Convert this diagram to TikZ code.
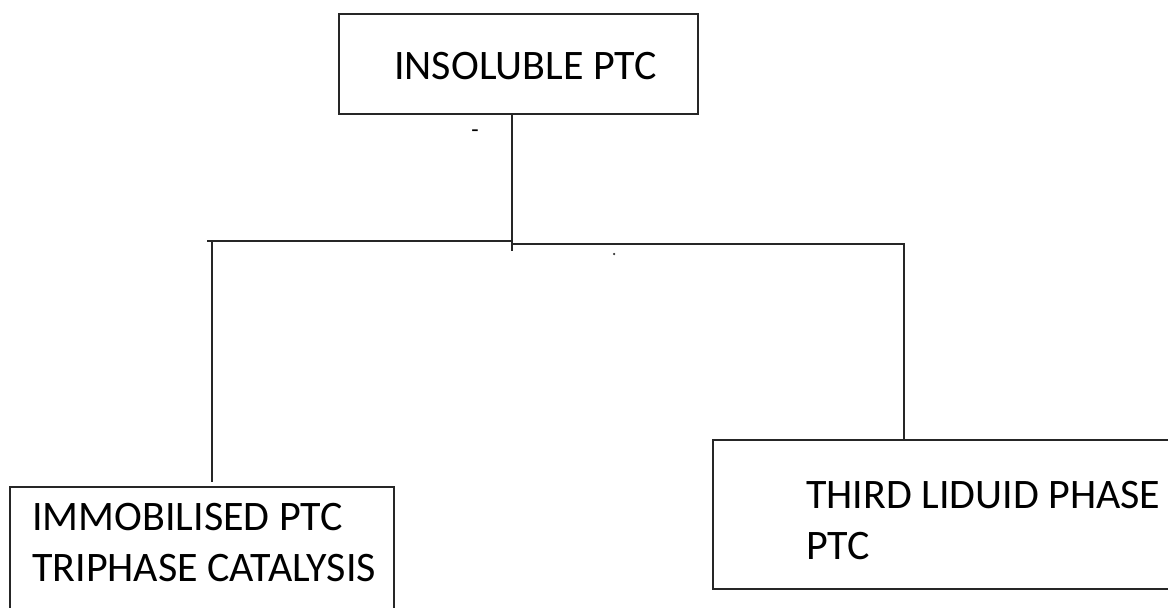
\documentclass[tikz,border=0pt]{standalone}
\usepackage{fontspec}
\setmainfont{Carlito}
\begin{document}
\begin{tikzpicture}[x=1pt,y=-1pt,
  box/.style={draw=black!85,line width=2pt,rectangle,inner sep=0pt},
  conn/.style={draw=black!85,line width=2pt},
  lbl/.style={anchor=base west,inner sep=0pt,font=\fontsize{42}{51}\selectfont,text=black}]
\useasboundingbox (0,0) rectangle (1168,608);
\clip (0,0) rectangle (1168,608);
% boxes
\node[box,minimum width=359pt,minimum height=100pt] (top) at (518.5,64) {};
\node[box,minimum width=384pt,minimum height=140pt] (lbox) at (202,557) {};
\node[box,minimum width=480pt,minimum height=149pt] (rbox) at (953,514.5) {};
% texts
\node[lbl] (ttop) at (394,79) {INSOLUBLE PTC};
\node[lbl] (tl1) at (32,530) {IMMOBILISED PTC};
\node[lbl] (tl2) at (32,581) {TRIPHASE CATALYSIS};
\node[lbl] (tr1) at (806,508) {THIRD LIDUID PHASE};
\node[lbl] (tr2) at (806,559) {PTC};
\node[anchor=center,inner sep=0pt,font=\fontsize{24}{24}\selectfont] (dash) at (475,134) {-};
\node[circle,fill=black!80,inner sep=0pt,minimum size=2.5pt] (dot) at (614,254) {};
% junction coordinates
\coordinate (jt) at (512,240.5);
\coordinate (jb) at (512,251);
\coordinate (ll) at (207,240.5);
\coordinate (lv) at (212,240.5);
\coordinate (lve) at (212,482);
\coordinate (jr) at (512,244);
\coordinate (rv) at (904,244);
% connectors
\draw[conn] (top.south -| jt) -- (jb);
\draw[conn] (ll) -- (jt);
\draw[conn] (lv) -- (lve);
\draw[conn] (jr) -- (rv) -- (rv |- rbox.north);
\end{tikzpicture}
\end{document}
